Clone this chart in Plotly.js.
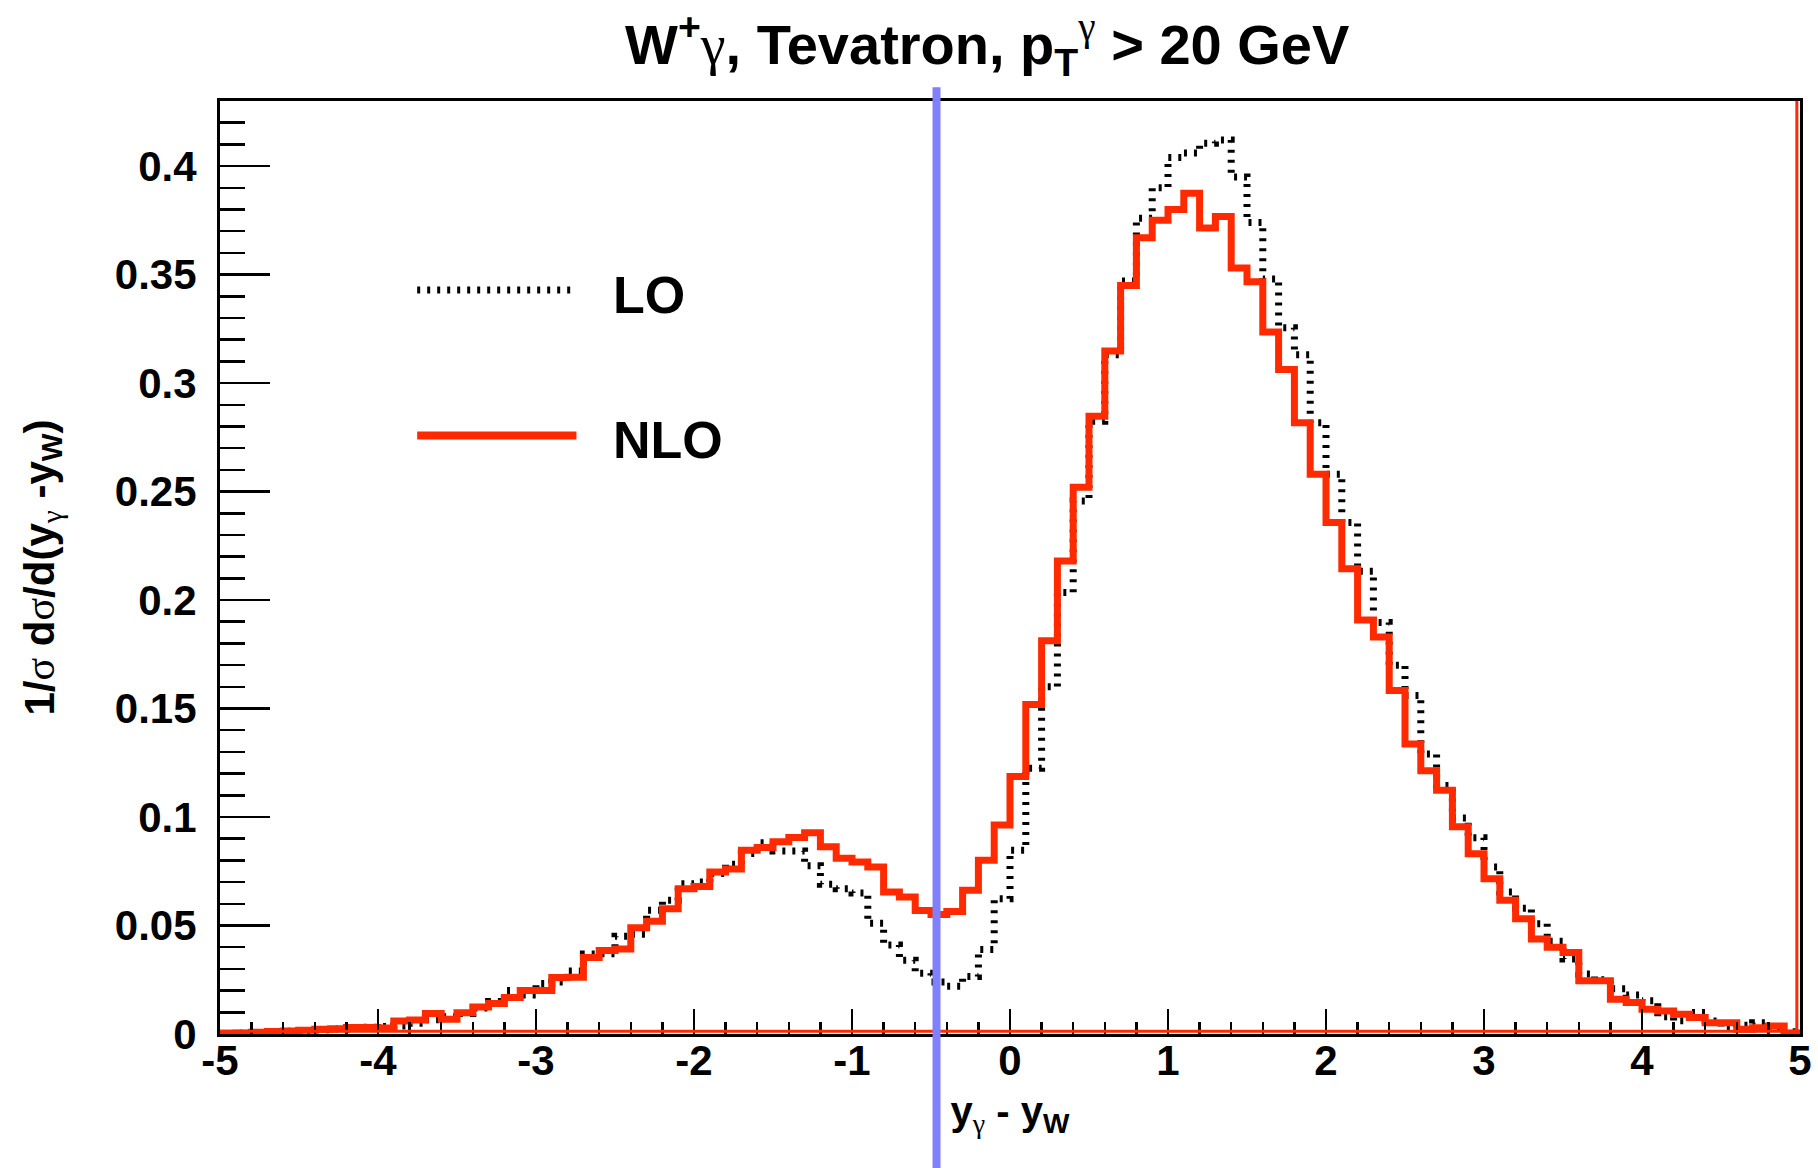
<!DOCTYPE html>
<html>
<head>
<meta charset="utf-8">
<script src="https://cdn.plot.ly/plotly-3.0.1.min.js"></script>
<style>
  html, body { margin: 0; padding: 0; background: #ffffff; }
  #chart { width: 1818px; height: 1168px; }
</style>
</head>
<body>
<div id="chart"></div>
<script>
// ---------------- data ----------------
// Histogram: 100 bins of width 0.1 from -5 to 5 in y_gamma - y_W
const histMin = -5;
const histMax = 5;
const binCount = 100;

// LO (black dotted) bin contents
const loValues = [
  0.0002, 0.0004, 0.0007, 0.0010, 0.0013, 0.0016, 0.0020, 0.0023, 0.0027, 0.0031,
  0.0034, 0.0037, 0.0050, 0.0066, 0.0080, 0.0095, 0.0120, 0.0150, 0.0200, 0.0180,
  0.0233, 0.0240, 0.0290, 0.0369, 0.0370, 0.0450, 0.0460, 0.0570, 0.0616, 0.0693,
  0.0700, 0.0740, 0.0782, 0.0832, 0.0881, 0.0843, 0.0843, 0.0775, 0.0690, 0.0670,
  0.0650, 0.0510, 0.0410, 0.0340, 0.0280, 0.0240, 0.0220, 0.0265, 0.0390, 0.0623,
  0.0847, 0.1225, 0.1600, 0.2035, 0.2457, 0.2824, 0.3130, 0.3470, 0.3760, 0.3900,
  0.4040, 0.4060, 0.4105, 0.4120, 0.3950, 0.3740, 0.3480, 0.3255, 0.3130, 0.2817,
  0.2580, 0.2357, 0.2133, 0.1897, 0.1700, 0.1560, 0.1290, 0.1145, 0.0995, 0.0905,
  0.0770, 0.0654, 0.0580, 0.0508, 0.0427, 0.0346, 0.0276, 0.0250, 0.0208, 0.0180,
  0.0153, 0.0079, 0.0061, 0.0099, 0.0060, 0.0029, 0.0040, 0.0052, 0.0030, 0.0010
];

// NLO (red solid) bin contents
const nloValues = [
  0.0003, 0.0005, 0.0008, 0.0011, 0.0014, 0.0017, 0.0022, 0.0024, 0.0030, 0.0030,
  0.0028, 0.0060, 0.0064, 0.0094, 0.0068, 0.0098, 0.0125, 0.0140, 0.0168, 0.0200,
  0.0200, 0.0260, 0.0262, 0.0353, 0.0385, 0.0392, 0.0490, 0.0520, 0.0577, 0.0670,
  0.0680, 0.0747, 0.0760, 0.0847, 0.0860, 0.0886, 0.0906, 0.0927, 0.0863, 0.0810,
  0.0793, 0.0770, 0.0654, 0.0631, 0.0569, 0.0551, 0.0565, 0.0662, 0.0801, 0.0963,
  0.1187, 0.1519, 0.1812, 0.2180, 0.2520, 0.2847, 0.3148, 0.3450, 0.3670, 0.3750,
  0.3800, 0.3875, 0.3715, 0.3768, 0.3530, 0.3467, 0.3235, 0.3062, 0.2817, 0.2580,
  0.2357, 0.2144, 0.1908, 0.1830, 0.1583, 0.1336, 0.1213, 0.1123, 0.0955, 0.0831,
  0.0715, 0.0617, 0.0531, 0.0438, 0.0400, 0.0376, 0.0245, 0.0245, 0.0160, 0.0145,
  0.0114, 0.0106, 0.0091, 0.0076, 0.0052, 0.0052, 0.0022, 0.0029, 0.0037, 0.0005
];

// vertical marker (radiation-zero position) in y_gamma - y_W
const markerPosition = -0.465;

// axis ticks
const xTickValues = [-5, -4, -3, -2, -1, 0, 1, 2, 3, 4, 5];
const xTickLabels = ["-5", "-4", "-3", "-2", "-1", "0", "1", "2", "3", "4", "5"];
const yTickValues = [0, 0.05, 0.1, 0.15, 0.2, 0.25, 0.3, 0.35, 0.4];
const yTickLabels = ["0", "0.05", "0.1", "0.15", "0.2", "0.25", "0.3", "0.35", "0.4"];

// legend labels
const seriesNames = ["LO", "NLO"];

// ---------------- build ----------------
const binWidth = (histMax - histMin) / binCount;
const edges = [];
for (let i = 0; i <= binCount; i++) {
  edges.push(Math.round((histMin + i * binWidth) * 1000) / 1000);
}
function stepY(vals) { return vals.concat([vals[vals.length - 1]]); }

const FONT = "Liberation Sans, Arial, Helvetica, sans-serif";
const RED = "#ff2a00";
// Greek letters drawn in a serif face, like the symbol font of the original
const g = '<span style="font-family:Liberation Serif;font-weight:normal">γ</span>';
const s = '<span style="font-family:Liberation Serif;font-weight:normal">σ</span>';

const traces = [
  {
    type: "scatter", mode: "lines", name: seriesNames[0],
    x: edges, y: stepY(loValues),
    line: { shape: "hv", color: "#000000", width: 7, dash: "3px,7px" },
    showlegend: false, hoverinfo: "skip"
  },
  {
    type: "scatter", mode: "lines", name: seriesNames[1],
    x: edges, y: stepY(nloValues),
    line: { shape: "hv", color: RED, width: 7 },
    showlegend: false, hoverinfo: "skip"
  }
];

const layout = {
  width: 1818, height: 1168,
  paper_bgcolor: "#ffffff", plot_bgcolor: "#ffffff",
  margin: { l: 220, r: 18, t: 101, b: 134, pad: 0 },
  showlegend: false,
  title: {
    text: "W<sup>+</sup>" + g + ", Tevatron, p<sub>T</sub><sup>" + g + "</sup> > 20 GeV",
    font: { family: FONT, size: 56, color: "#000000", weight: 700 },
    x: 0.543, xanchor: "center", xref: "container",
    y: 0.962, yanchor: "middle", yref: "container"
  },
  xaxis: {
    range: [histMin, histMax],
    showgrid: false, zeroline: false,
    showline: true, linecolor: "#000000", linewidth: 3, mirror: true,
    ticks: "inside", ticklen: 25, tickwidth: 2.5, tickcolor: "#000000",
    tickmode: "array", tickvals: xTickValues, ticktext: xTickLabels,
    tickfont: { family: FONT, size: 42, color: "#000000", weight: 700 },
    ticklabelstandoff: -12,
    minor: { ticks: "inside", ticklen: 12, tickwidth: 2.5, tickcolor: "#000000", tickmode: "linear", tick0: 0, dtick: 0.2, showgrid: false },
    title: {
      text: "y<sub>" + g + "</sub> - y<sub>W</sub>",
      font: { family: FONT, size: 40, color: "#000000", weight: 700 },
      standoff: 14
    },
    automargin: false
  },
  yaxis: {
    range: [0, 0.43],
    showgrid: false, zeroline: false,
    showline: true, linecolor: "#000000", linewidth: 3, mirror: true,
    ticks: "inside", ticklen: 50, tickwidth: 2.5, tickcolor: "#000000",
    tickmode: "array", tickvals: yTickValues, ticktext: yTickLabels,
    tickfont: { family: FONT, size: 42, color: "#000000", weight: 700 },
    ticklabelstandoff: 12,
    minor: { ticks: "inside", ticklen: 25, tickwidth: 2.5, tickcolor: "#000000", tickmode: "linear", tick0: 0, dtick: 0.01, showgrid: false },
    title: {
      text: "1/" + s + " d" + s + "/d(y<sub>" + g + "</sub> -y<sub>W</sub>)",
      font: { family: FONT, size: 42, color: "#000000", weight: 700 },
      standoff: 48
    },
    automargin: false
  },
  shapes: [
    // red baseline and right edge of the NLO histogram outline
    { type: "line", xref: "paper", yref: "paper", x0: 0, x1: 1, y0: 0.003, y1: 0.003,
      line: { color: RED, width: 3 }, layer: "above" },
    { type: "line", xref: "paper", yref: "paper", x0: 0.998, x1: 0.998, y0: 0, y1: 1,
      line: { color: RED, width: 3 }, layer: "above" },
    // vertical blue marker
    { type: "line", xref: "x", yref: "paper", x0: markerPosition, x1: markerPosition, y0: -0.145, y1: 1.0147,
      line: { color: "#8080ff", width: 8 }, layer: "above" },
    // legend samples
    { type: "line", xref: "paper", yref: "paper", x0: 0.1248, x1: 0.2229, y0: 0.7975, y1: 0.7975,
      line: { color: "#000000", width: 7, dash: "3px,7px" } },
    { type: "line", xref: "paper", yref: "paper", x0: 0.1248, x1: 0.2256, y0: 0.6415, y1: 0.6415,
      line: { color: RED, width: 8 } }
  ],
  annotations: [
    { xref: "paper", yref: "paper", x: 0.2472, y: 0.7922, xanchor: "left", yanchor: "middle",
      text: seriesNames[0], showarrow: false,
      font: { family: FONT, size: 52, color: "#000000", weight: 700 } },
    { xref: "paper", yref: "paper", x: 0.2472, y: 0.6369, xanchor: "left", yanchor: "middle",
      text: seriesNames[1], showarrow: false,
      font: { family: FONT, size: 52, color: "#000000", weight: 700 } }
  ]
};

Plotly.newPlot("chart", traces, layout, { staticPlot: true, displayModeBar: false });
</script>
</body>
</html>
